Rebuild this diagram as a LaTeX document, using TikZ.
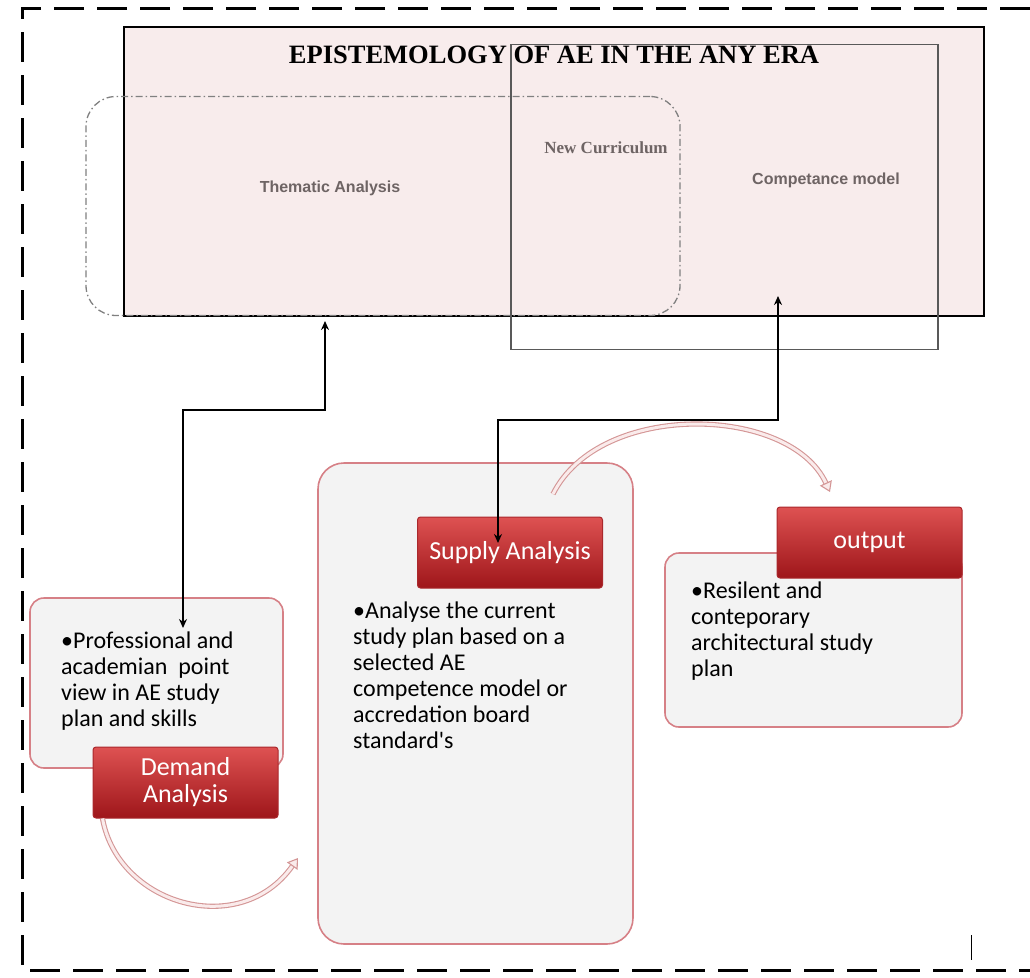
\documentclass[tikz,border=0pt]{standalone}
\usepackage{fontspec}
\setmainfont{Carlito}[Ligatures=TeXOff]
\newfontfamily\titlefont{Liberation Serif}
\newfontfamily\labelfont{Liberation Sans}
\usetikzlibrary{arrows.meta}
\definecolor{epipink}{RGB}{248,236,236}
\definecolor{labelgray}{RGB}{110,100,100}
\definecolor{boxedge}{RGB}{214,128,134}
\definecolor{boxfill}{RGB}{243,243,243}
\definecolor{btntop}{RGB}{222,82,82}
\definecolor{btnbottom}{RGB}{158,22,26}
\definecolor{btnedge}{RGB}{170,40,44}
\definecolor{tubeedge}{RGB}{212,150,150}
\definecolor{tubefill}{RGB}{250,235,235}

\begin{document}
\begin{tikzpicture}[x=1pt,y=-1pt]

%
% Styles
%
\tikzstyle{epibox}   = [draw=black,line width=2pt,fill=epipink,minimum width=860pt,minimum height=289pt]
\tikzstyle{scopebox} = [draw=gray,line width=1.3pt,rounded corners=30pt,dash pattern=on 7pt off 3pt on 1.5pt off 3pt,minimum width=594pt,minimum height=219pt]
\tikzstyle{framebox} = [draw=gray!70!black,line width=1.2pt,minimum width=427pt,minimum height=305pt]
\tikzstyle{title}    = [font=\titlefont\bfseries\fontsize{26.5}{30}\selectfont]
\tikzstyle{lbl}      = [text=labelgray,font=\labelfont\bfseries\fontsize{16}{19}\selectfont]
\tikzstyle{serlbl}   = [text=labelgray,font=\titlefont\bfseries\fontsize{17}{20}\selectfont]
\tikzstyle{txtbox}   = [draw=boxedge,line width=1.6pt,fill=boxfill,rounded corners=14pt]
\tikzstyle{btn}      = [draw=btnedge,line width=1pt,top color=btntop,bottom color=btnbottom,rounded corners=3pt,
                        text=white,align=center,font=\fontsize{26}{27}\selectfont,minimum width=185pt,minimum height=71pt]
\tikzstyle{bullets}  = [anchor=north west,inner sep=0pt,align=left,font=\fontsize{24}{26}\selectfont]
\tikzstyle{link}     = [{Stealth[length=9pt,width=8pt]}-{Stealth[length=9pt,width=8pt]},line width=1.8pt]
\tikzstyle{tube}     = [draw=tubeedge,double=tubefill,double distance=3pt,line width=1.1pt,
                        -{Triangle[open,length=10pt,width=13pt,fill=tubefill]}]
\tikzstyle{border}   = [line width=3pt,dash pattern=on 30pt off 13pt]

\useasboundingbox (0,0) rectangle (1030,977);
\draw[border] (1030,8) -| (22,970) -- (1030,970);

% upper part
\node[epibox]   (epi) at (554,171.5) {};
\node[scopebox] (cur) at (383,206)   {};
\node[framebox] (cmp) at (724.5,197) {};
\node[title]    (ttl) at (554,55)    {EPISTEMOLOGY OF AE IN THE ANY ERA};
\node[lbl]      (thm) at (330,188)   {Thematic Analysis};
\node[serlbl]   (new) at (606,148)   {New Curriculum};
\node[lbl]      (com) at (826,180)   {Competance model};

% lower part
\node[txtbox,minimum width=253pt,minimum height=170pt] (dembox) at (156.5,683) {};
\node[txtbox,rounded corners=26pt,minimum width=315pt,minimum height=481pt] (supbox) at (475.5,703.5) {};
\node[txtbox,minimum width=297pt,minimum height=174pt] (outbox) at (813.5,640) {};

\node[bullets] (demtxt) at (61,632) {•Professional and\\academian\ \ point\\view in AE study\\plan and skills};
\node[bullets] (suptxt) at (353,602) {•Analyse the current\\ study plan based on a\\ selected AE\\ competence model or\\ accredation board\\ standard's};
\node[bullets] (outtxt) at (691,582) {•Resilent and\\ conteporary\\ architectural study\\ plan};

\node[btn] (dembtn) at (185.5,782.5) {Demand\\Analysis};
\node[btn] (supbtn) at (510,552.5)   {Supply Analysis};
\node[btn] (outbtn) at (869.5,542.5) {output};

% connectors
\coordinate (demtip) at (183,628);
\coordinate (thmtip) at (325,321);
\coordinate (suptip) at (498,543);
\coordinate (cmptip) at (778,296);
\draw[link] (demtip) -- ++(0,-218) -| (thmtip);
\draw[link] (suptip) -- ++(0,-123) -| (cmptip);

\coordinate (demend) at (298,858);
\coordinate (supbeg) at (553,494);
\coordinate (supend) at (830,492);
\draw[tube] ([xshift=10pt]dembtn.south west) .. controls (118,905) and (240,940) .. (demend);
\draw[tube] (supbeg) .. controls (600,400) and (790,405) .. (supend);

\draw[line width=1pt] (971,935) -- (971,960);

\end{tikzpicture}
\end{document}
